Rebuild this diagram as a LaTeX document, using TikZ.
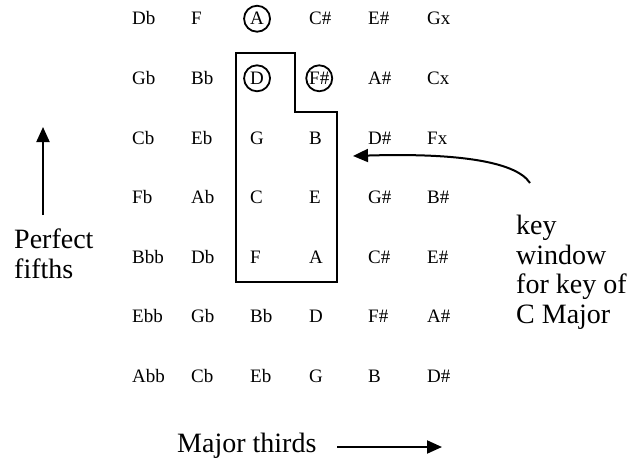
\documentclass[tikz,border=0pt]{standalone}
\usepackage{fontspec}
\setmainfont{Liberation Serif}
\usetikzlibrary{arrows.meta}

\begin{document}
\begin{tikzpicture}[x=1pt, y=-1pt, >={Triangle[width=13pt,length=15pt]},
  note/.style={anchor=base west, inner sep=0pt, font=\fontsize{19}{21}\selectfont},
  ring/.style={draw, circle, line width=1.8pt, minimum size=26pt, inner sep=0pt},
  caption/.style={anchor=base west, inner sep=0pt, align=left, font=\fontsize{28}{29.5}\selectfont}]
\useasboundingbox (0,0) rectangle (634,460);
% note grid: fifths go up, major thirds go right
\foreach \row/\names in {1/{Db,F,A,C\#,E\#,Gx}, 2/{Gb,Bb,D,F\#,A\#,Cx}, 3/{Cb,Eb,G,B,D\#,Fx},
    4/{Fb,Ab,C,E,G\#,B\#}, 5/{Bbb,Db,F,A,C\#,E\#}, 6/{Ebb,Gb,Bb,D,F\#,A\#}, 7/{Abb,Cb,Eb,G,B,D\#}}
  \foreach \name [count=\col] in \names
    \node[note] (n-\row-\col) at ({132+59*(\col-1)}, {25+59.5*(\row-1)}) {\name};
\node[ring] (ring-A) at (n-1-3.center) {};
\node[ring] (ring-D) at (n-2-3.center) {};
\node[ring] (ring-Fs) at (n-2-4.center) {};
% key window
\draw[line width=2pt] (236,53) -- (295,53) -- (295,112) -- (337,112) -- (337,282) -- (236,282) -- cycle;
% axis labels (base anchor sits on the last line)
\node[caption] (fifths) at (14,278) {Perfect\\fifths};
\coordinate (fifthsTail) at (43,215);
\coordinate (fifthsTip) at (43,127);
\draw[->, line width=2pt] (fifthsTail) -- (fifthsTip);
\node[caption] (thirds) at (177,452) {Major thirds};
\coordinate (thirdsTail) at (337,447);
\coordinate (thirdsTip) at (442,447);
\draw[->, line width=2pt] (thirdsTail) -- (thirdsTip);
\node[caption] (keywin) at (516,323) {key\\window\\for key of\\C Major};
\coordinate (keyTail) at (530,183);
\coordinate (keyTip) at (353,156);
\draw[->, line width=2pt] (keyTail) .. controls (515,160) and (450,153) .. (keyTip);
\end{tikzpicture}
\end{document}
